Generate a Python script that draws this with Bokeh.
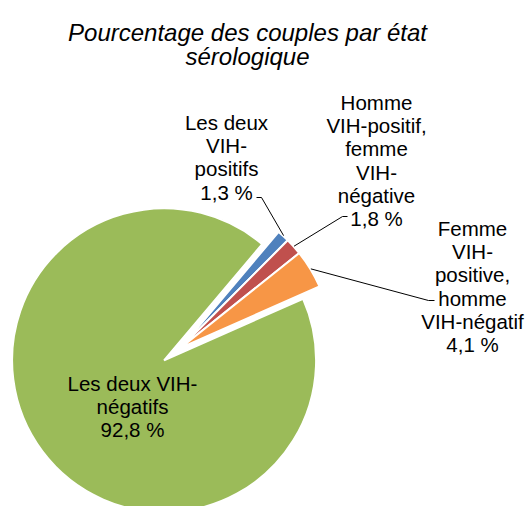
import math
from bokeh.plotting import figure
from bokeh.models import Range1d
from bokeh.core.properties import value
from bokeh.embed import file_html
from bokeh.resources import INLINE

# ---- data ----
categories = [
    "Les deux\nVIH-\npositifs",
    "Homme\nVIH-positif,\nfemme\nVIH-\nnégative",
    "Femme\nVIH-\npositive,\nhomme\nVIH-négatif",
    "Les deux VIH-\nnégatifs",
]
values = [1.3, 1.8, 4.1, 92.8]
colors = ["#4F81BD", "#C0504D", "#F79646", "#9BBB59"]
title_lines = ["Pourcentage des couples par état", "sérologique"]

# ---- layout (reference pixel space) ----
W, H = 526, 506
def px(X, Y):
    return X, H - Y

center = (180, 347.5)
radius = 152
first_angle = 40.2            # degrees clockwise from 12 o'clock
explode = [0, 0, 0, 20.5]
label_anchor = [(226, 122), (376, 102), (472, 228), (132, 383)]   # first-line baselines
line_h = 23.2
leader_label_pts = [[(256, 197), (261, 197)], [(347, 216), (342, 216)], [(434, 300), (428, 300)], None]
FONT = value("Liberation Sans")

p = figure(width=W, height=H, output_backend="svg", toolbar_location=None,
           x_range=Range1d(0, W), y_range=Range1d(0, H),
           x_axis_location=None, y_axis_location=None, min_border=0)
p.grid.visible = False
p.outline_line_color = None
p.background_fill_color = "white"

total = sum(values)
cx, cy = px(*center)
acc = first_angle
for i, v in enumerate(values):
    span = v / total * 360.0
    a0, a1 = acc, acc + span
    mid = math.radians((a0 + a1) / 2)
    ox = cx + explode[i] * math.sin(mid)
    oy = cy + explode[i] * math.cos(mid)
    p.wedge(x=[ox], y=[oy], radius=radius, radius_units="data",
            start_angle=[math.radians(90 - a1)], end_angle=[math.radians(90 - a0)],
            direction="anticlock", fill_color=colors[i],
            line_color="white", line_width=2)
    if leader_label_pts[i] is not None:
        sx = ox + (radius + 0.5) * math.sin(mid)
        sy = oy + (radius + 0.5) * math.cos(mid)
        pts = [px(*q) for q in leader_label_pts[i]]
        p.line([pts[0][0], pts[1][0], sx], [pts[0][1], pts[1][1], sy],
               line_color="black", line_width=1)
    pct = f"{v:.1f}".replace(".", ",") + " %"
    lines = categories[i].split("\n") + [pct]
    lx, ly = px(*label_anchor[i])
    p.text(x=[lx] * len(lines), y=[ly - k * line_h for k in range(len(lines))], text=lines,
           text_align="center", text_baseline="alphabetic", text_font=FONT,
           text_font_size="20.5px", text_color="black")
    acc = a1

# title
tx, ty = px(247, 32)
p.text(x=[tx, tx], y=[ty, ty - 24], text=title_lines, text_align="center",
       text_baseline="alphabetic", text_font=FONT, text_font_style="italic",
       text_font_size="24px", text_color="black")

open("out.html", "w").write(file_html(p, INLINE))
